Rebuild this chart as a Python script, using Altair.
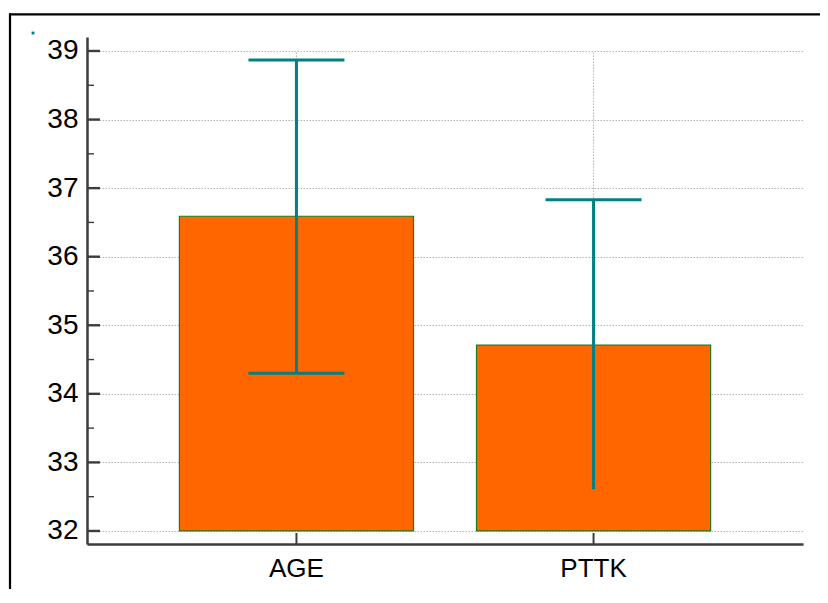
import altair as alt
import pandas as pd

# ---- data ----
categories = ["AGE", "PTTK"]
means = [36.59, 34.71]
err_hi = [38.87, 36.83]
err_lo = [34.30, 32.61]
lower_cap_shown = [True, False]
bar_base = 32
grid_top = 39
major_ticks = [32, 33, 34, 35, 36, 37, 38, 39]
minor_ticks = [32.5, 33.5, 34.5, 35.5, 36.5, 37.5, 38.5]

df = pd.DataFrame({
    "cat": categories,
    "mean": means,
    "hi": err_hi,
    "lo": err_lo,
    "base": [bar_base] * len(categories),
    "gtop": [grid_top] * len(categories),
})
caps = pd.DataFrame({
    "cat": categories + [c for c, s in zip(categories, lower_cap_shown) if s],
    "v": err_hi + [v for v, s in zip(err_lo, lower_cap_shown) if s],
})
maj = pd.DataFrame({"v": major_ticks})
mnr = pd.DataFrame({"v": minor_ticks})
one = pd.DataFrame({"a": [0]})

AX = "#3c3c3c"
TEAL = "#008080"
GRID = "#b4b4b4"
FONT = "Liberation Sans"

xscale = alt.Scale(domain=categories, paddingInner=0.212, paddingOuter=0.311)
yscale = alt.Scale(domain=[31.81, 39.204], nice=False, zero=False)

x_enc = alt.X("cat:N", scale=xscale, sort=categories,
              axis=alt.Axis(title=None, labelAngle=0, labelFontSize=26, labelFont=FONT,
                            labelColor="black", ticks=False, grid=False,
                            domainColor=AX, domainWidth=2.5, labelPadding=11))
y_axis = alt.Axis(title=None, values=major_ticks, format="d", labelFontSize=28,
                  labelFont=FONT, labelColor="black", ticks=False, grid=True,
                  gridDash=[1.5, 1.5], gridColor=GRID, gridWidth=1,
                  domainColor=AX, domainWidth=2.5, labelPadding=9)

vgrid = alt.Chart(df).mark_rule(color=GRID, strokeDash=[1.5, 1.5], strokeWidth=1).encode(
    x=x_enc,
    y=alt.Y("base:Q", scale=yscale, axis=y_axis),
    y2="gtop:Q",
)

bars = alt.Chart(df).mark_bar(color="#FF6600", stroke="#1f7a1f", strokeWidth=1.2).encode(
    x=alt.X("cat:N", scale=xscale, sort=categories),
    y=alt.Y("mean:Q", scale=yscale),
    y2="base:Q",
)

err = alt.Chart(df).mark_rule(color=TEAL, strokeWidth=3).encode(
    x=alt.X("cat:N", scale=xscale, sort=categories),
    y=alt.Y("lo:Q", scale=yscale),
    y2="hi:Q",
)

cap = alt.Chart(caps).mark_tick(color=TEAL, size=96, thickness=3, opacity=1).encode(
    x=alt.X("cat:N", scale=xscale, sort=categories),
    y=alt.Y("v:Q", scale=yscale),
)

ymaj = alt.Chart(maj).mark_rule(color=AX, strokeWidth=2.4).encode(
    x=alt.value(0), x2=alt.value(13), y=alt.Y("v:Q", scale=yscale))
ymin = alt.Chart(mnr).mark_rule(color=AX, strokeWidth=1.4).encode(
    x=alt.value(0), x2=alt.value(7), y=alt.Y("v:Q", scale=yscale))
xtk = alt.Chart(df).mark_rule(color=AX, strokeWidth=2).encode(
    x=alt.X("cat:N", scale=xscale, sort=categories),
    y=alt.value(496), y2=alt.value(507))

border_left = alt.Chart(one).mark_rule(color="black", strokeWidth=2.2).encode(
    x=alt.value(-77), y=alt.value(-23.5), y2=alt.value(620))
border_top = alt.Chart(one).mark_rule(color="black", strokeWidth=2.2).encode(
    x=alt.value(-78), x2=alt.value(760), y=alt.value(-22.7))
dot = alt.Chart(one).mark_point(shape="square", size=8, filled=True, color=TEAL, opacity=1).encode(
    x=alt.value(-54), y=alt.value(-4))

chart = alt.layer(vgrid, bars, err, cap, ymaj, ymin, xtk, border_left, border_top, dot).properties(
    width=716, height=507,
    autosize=alt.AutoSizeParams(type="none"),
    padding={"left": 79, "top": 29, "right": 17, "bottom": 45},
    background="white",
).configure_view(stroke=None)

chart.save("out.html", embed_options={"renderer": "svg", "actions": False})
